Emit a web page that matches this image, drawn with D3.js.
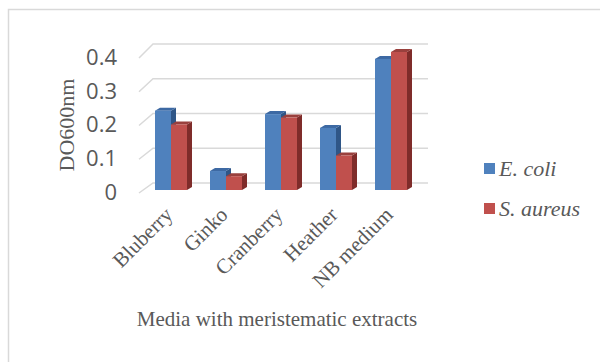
<!DOCTYPE html>
<html>
<head>
<meta charset="utf-8">
<script src="https://cdn.jsdelivr.net/npm/d3@7"></script>
<style>
  html, body { margin: 0; padding: 0; background: #fff; }
  svg { display: block; }
</style>
</head>
<body>
<svg id="chart" width="600" height="362"></svg>
<script>
// Optical density readings per growth medium
const categories = ["Bluberry", "Ginko", "Cranberry", "Heather", "NB medium"];
const ecoli = [0.23, 0.055, 0.22, 0.18, 0.38];
const saureus = [0.19, 0.04, 0.21, 0.10, 0.40];
const seriesNames = ["E. coli", "S. aureus"];
const yTicks = [0, 0.1, 0.2, 0.3, 0.4];
const yTickLabels = ["0", "0.1", "0.2", "0.3", "0.4"];

const svg = d3.select("#chart");
const grey = "#595959";
const gridColor = "#d9d9d9";
const serif = "'Liberation Serif', 'Times New Roman', serif";
const palette = [
  { front: "#4f81bd", side: "#2f5687", top: "#3d69a3" },
  { front: "#c0504d", side: "#7f2c2a", top: "#99403d" }
];

// Outer chart frame
svg.append("rect")
  .attr("x", 8.5).attr("y", 9.5)
  .attr("width", 700).attr("height", 500)
  .attr("fill", "none").attr("stroke", gridColor).attr("stroke-width", 1.5);

// Scales: back wall, front edge and bar-face depth planes
const yBack = d3.scaleLinear().domain([0, 0.4]).range([183, 44]);
const yFront = d3.scaleLinear().domain([0, 0.4]).range([193, 58]);
const yBar = d3.scaleLinear().domain([0, 0.4]).range([190, 52]);
const x = d3.scaleBand().domain(categories).range([143.5, 418.5]);
const barW = 16, depthX = 5, depthY = 3;
const wallLeft = 153, wallRight = 428, frontLeft = 139;

// Gridlines with perspective side wall
const grid = svg.append("g");
yTicks.forEach(t => {
  grid.append("path")
    .attr("d", `M${frontLeft},${yFront(t)}L${wallLeft},${yBack(t)}L${wallRight},${yBack(t)}`)
    .attr("fill", "none").attr("stroke", gridColor).attr("stroke-width", 1.5);
});

// Y tick labels
svg.append("g").selectAll("text").data(yTicks).join("text")
  .attr("x", 117).attr("y", d => yFront(d) + 1)
  .attr("text-anchor", "end").attr("dominant-baseline", "middle")
  .attr("font-family", "'Open Sans', sans-serif").attr("font-size", 22)
  .attr("fill", grey)
  .text((d, i) => yTickLabels[i]);

// Y axis title
svg.append("text")
  .attr("transform", "translate(74,125) rotate(-90)")
  .attr("text-anchor", "middle")
  .attr("font-family", serif).attr("font-size", 22)
  .attr("fill", grey)
  .text("DO600nm");

// 3D columns
const series = [ecoli, saureus];
const bars = svg.append("g");
categories.forEach((c, i) => {
  const cx = x(c) + x.bandwidth() / 2;
  series.forEach((vals, s) => {
    const x0 = cx - barW + s * barW;
    const x1 = x0 + barW;
    const yt = yBar(vals[i]);
    const yb = yBar(0);
    const col = palette[s];
    // side face
    bars.append("path")
      .attr("d", `M${x1},${yt}L${x1 + depthX},${yt - depthY}L${x1 + depthX},${yb - depthY}L${x1},${yb}Z`)
      .attr("fill", col.side);
    // top face
    bars.append("path")
      .attr("d", `M${x0},${yt}L${x0 + depthX},${yt - depthY}L${x1 + depthX},${yt - depthY}L${x1},${yt}Z`)
      .attr("fill", col.top);
    // front face
    bars.append("rect")
      .attr("x", x0).attr("y", yt)
      .attr("width", barW).attr("height", yb - yt)
      .attr("fill", col.front);
  });
});

// Category labels, rotated
svg.append("g").selectAll("text").data(categories).join("text")
  .attr("transform", d => `translate(${x(d) + x.bandwidth() / 2 + 3},${216}) rotate(-45)`)
  .attr("text-anchor", "end")
  .attr("font-family", serif).attr("font-size", 21)
  .attr("fill", grey)
  .text(d => d);

// X axis title
svg.append("text")
  .attr("x", 277).attr("y", 326)
  .attr("text-anchor", "middle")
  .attr("font-family", serif).attr("font-size", 21)
  .attr("fill", grey)
  .text("Media with meristematic extracts");

// Legend
const legend = svg.append("g");
seriesNames.forEach((name, s) => {
  const ly = 163 + s * 40;
  legend.append("rect")
    .attr("x", 484).attr("y", ly).attr("width", 11).attr("height", 11)
    .attr("fill", palette[s].front);
  legend.append("text")
    .attr("x", 499).attr("y", ly + 13)
    .attr("font-family", serif).attr("font-size", 22)
    .attr("font-style", "italic")
    .attr("fill", grey)
    .text(name);
});
</script>
</body>
</html>
